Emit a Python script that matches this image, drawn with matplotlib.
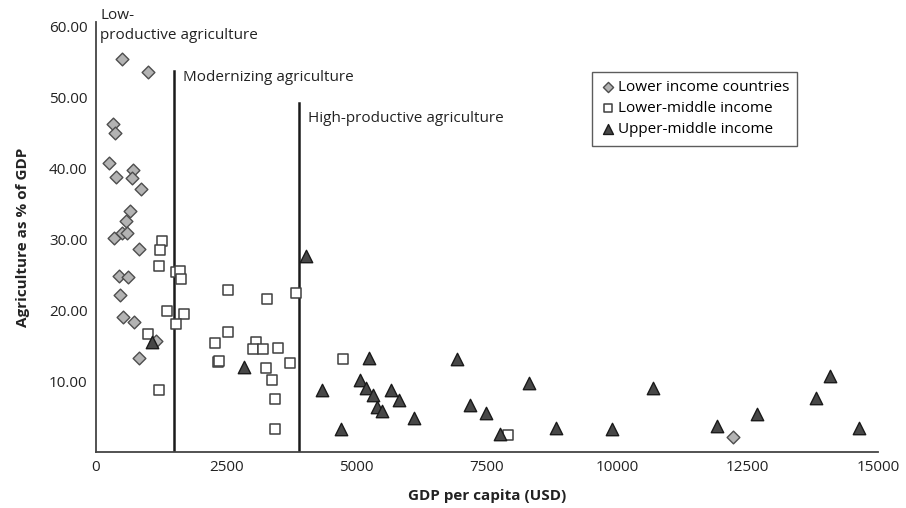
import matplotlib
matplotlib.use("Agg")
import matplotlib.pyplot as plt
from matplotlib.ticker import FuncFormatter

plt.rcParams["font.family"] = ["Open Sans", "DejaVu Sans"]

# GDP per capita (USD) vs agriculture share of GDP (%)
low_gdp = [493, 1003, 332, 364, 249, 716, 384, 685, 857, 652, 569, 493, 588,
           352, 825, 441, 620, 460, 511, 735, 1151, 825, 12225]
low_agr = [55.4, 53.6, 46.2, 45.0, 40.7, 39.7, 38.7, 38.6, 37.0, 34.0, 32.6,
           30.9, 30.9, 30.2, 28.6, 24.8, 24.6, 22.1, 19.1, 18.3, 15.6, 13.2, 2.1]

lmid_gdp = [1272, 1228, 1209, 1535, 1612, 1631, 1362, 1695, 1535, 1004, 1209,
            2526, 3287, 2526, 2276, 3070, 3018, 3197, 3498, 2334, 2366, 3261,
            3370, 3434, 3434, 3837, 3721, 4732, 7898]
lmid_agr = [29.8, 28.5, 26.2, 25.4, 25.5, 24.4, 19.9, 19.4, 18.0, 16.7, 8.8,
            22.8, 21.5, 16.9, 15.3, 15.5, 14.5, 14.5, 14.7, 12.7, 12.9, 11.9,
            10.1, 7.5, 3.2, 22.4, 12.5, 13.1, 2.4]

umid_gdp = [1068, 2845, 4028, 5231, 4335, 5071, 5180, 5308, 5659, 5812, 5390,
            5493, 6094, 4700, 6925, 8312, 10691, 7180, 7475, 7750, 8830, 9893,
            14085, 13812, 12686, 11907, 14643]
umid_agr = [15.5, 12.0, 27.6, 13.3, 8.8, 10.1, 9.1, 8.1, 8.8, 7.4, 6.3,
            5.8, 4.8, 3.2, 13.1, 9.8, 9.0, 6.6, 5.5, 2.5, 3.4, 3.2,
            10.7, 7.6, 5.3, 3.7, 3.4]

# stage boundaries (GDP) and how high the divider lines reach
stage_x = [1500, 3900]
stage_top = [53.7, 49.2]
stage_labels = ["Modernizing agriculture", "High-productive agriculture"]
stage_label_y = [52.7, 47.0]

fig = plt.figure(figsize=(9.06, 5.08), dpi=100)
ax = fig.add_axes([0.106, 0.110, 0.863, 0.847])

ax.scatter(low_gdp, low_agr, marker="D", s=42, facecolor="#b3b3b3",
           edgecolor="#4d4d4d", linewidth=1.0, zorder=3,
           label="Lower income countries")
ax.scatter(lmid_gdp, lmid_agr, marker="s", s=62, facecolor="white",
           edgecolor="#404040", linewidth=1.1, zorder=3,
           label="Lower-middle income")
ax.scatter(umid_gdp, umid_agr, marker="^", s=80, facecolor="#474747",
           edgecolor="#1a1a1a", linewidth=1.0, zorder=4,
           label="Upper-middle income")

for x, top in zip(stage_x, stage_top):
    ax.plot([x, x], [0, top], color="#1a1a1a", lw=1.8, zorder=2)

ax.text(80, 62.6, "Low-\nproductive agriculture", fontsize=11,
        va="top", ha="left", color="#222222", linespacing=1.45, clip_on=False)
for x, y, lbl in zip(stage_x, stage_label_y, stage_labels):
    ax.text(x + 170, y, lbl, fontsize=11, va="center", ha="left",
            color="#222222")

ax.set_xlim(0, 15000)
ax.set_ylim(0, 60.6)
ax.set_xticks([0, 2500, 5000, 7500, 10000, 12500, 15000])
ax.set_yticks([10, 20, 30, 40, 50, 60])
ax.yaxis.set_major_formatter(FuncFormatter(lambda v, p: f"{v:.2f}"))
ax.tick_params(length=0, labelsize=11, colors="#222222", pad=6)

for side in ["top", "right"]:
    ax.spines[side].set_visible(False)
for side in ["left", "bottom"]:
    ax.spines[side].set_color("#444444")
    ax.spines[side].set_linewidth(1.3)

ax.set_xlabel("GDP per capita (USD)", fontsize=11, fontweight="bold",
              color="#222222", labelpad=10)
ax.set_ylabel("Agriculture as % of GDP", fontsize=11, fontweight="bold",
              color="#222222", labelpad=14)

leg = ax.legend(loc="upper left", bbox_to_anchor=(0.653, 0.859),
                bbox_transform=fig.transFigure, fontsize=11, frameon=True,
                fancybox=False, handletextpad=0.15, handlelength=1.0,
                borderpad=0.55, labelspacing=0.4, borderaxespad=0,
                markerscale=0.8)
leg.get_frame().set_edgecolor("#333333")
leg.get_frame().set_linewidth(1.0)

fig.savefig("out.png", dpi=100)
